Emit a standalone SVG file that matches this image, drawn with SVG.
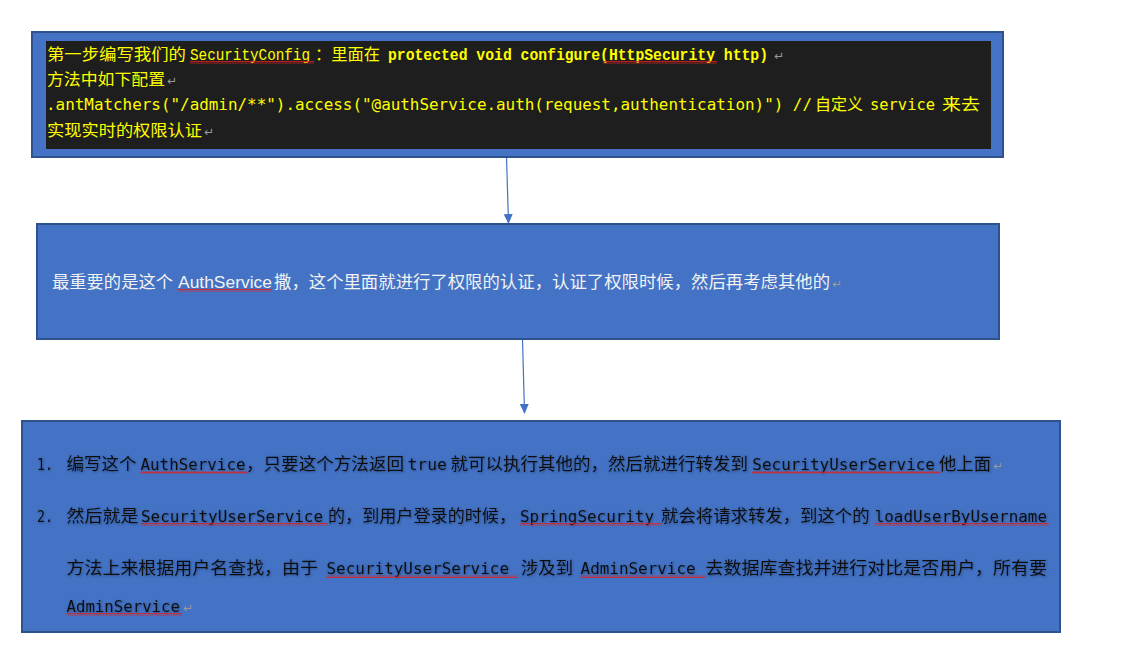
<svg xmlns="http://www.w3.org/2000/svg" width="1133" height="659" viewBox="0 0 1133 659">
<style>
.box{fill:#4472C4;stroke:#2F528F;stroke-width:2}
.cjk{font-family:"Noto Sans CJK SC","Noto Sans",sans-serif}
.mono{font-family:"DejaVu Sans Mono","Liberation Mono",monospace}
.cour{font-family:"Liberation Mono","DejaVu Sans Mono",monospace}
.sans{font-family:"Liberation Sans","Noto Sans",sans-serif}
.y{fill:#FFFF00;font-size:16px}
.w{fill:#F2F2F2;font-size:16.5px}
.k{fill:#101010;font-size:16.5px}
.ret{fill:#9A9A9A;font-family:"DejaVu Sans",sans-serif;font-size:12px}
.conn{stroke:#4472C4;stroke-width:1.2;fill:none}
</style>
<defs>
<pattern id="wave" width="4" height="3" patternUnits="userSpaceOnUse">
<path d="M0 2.5 L1 0.5 L2 2.5 L3 0.5 L4 2.5" stroke="#E0201C" stroke-width="0.8" fill="none"/>
</pattern>
<marker id="arr" markerWidth="10" markerHeight="10" refX="9" refY="5" orient="auto" markerUnits="userSpaceOnUse">
<path d="M0 0.5 L10 5 L0 9.5 Z" fill="#4472C4"/>
</marker>
<filter id="sh" x="-5%" y="-50%" width="110%" height="200%">
<feDropShadow dx="0.6" dy="0.8" stdDeviation="0.9" flood-color="#1F3864" flood-opacity="0.7"/>
</filter>
</defs>

<g id="connectors">
<line class="conn" x1="506.5" y1="157" x2="508.5" y2="223" marker-end="url(#arr)"/>
<line class="conn" x1="522.5" y1="339" x2="524.5" y2="413" marker-end="url(#arr)"/>
</g>

<g id="node1">
<rect class="box" x="32" y="32" width="971" height="125"/>
<rect x="46" y="41" width="945" height="108" fill="#1E1E1E"/>
<text class="cjk y" x="47" y="60" textLength="139" lengthAdjust="spacingAndGlyphs">第一步编写我们的</text>
<text class="cour y" x="190" y="60" font-size="15" textLength="120" lengthAdjust="spacingAndGlyphs">SecurityConfig</text>
<text class="cjk y" x="315" y="60" textLength="65" lengthAdjust="spacingAndGlyphs">：里面在</text>
<text class="cour y" x="388" y="60" font-size="15" font-weight="bold" textLength="380" lengthAdjust="spacingAndGlyphs">protected void configure(HttpSecurity  http)</text>
<text class="ret" x="774" y="60">↵</text>
<text class="cjk y" x="47" y="85" textLength="118" lengthAdjust="spacingAndGlyphs">方法中如下配置</text>
<text class="ret" x="167" y="85">↵</text>
<text class="mono y" x="46" y="110" textLength="766" lengthAdjust="spacingAndGlyphs">.antMatchers("/admin/**").access("@authService.auth(request,authentication)") //</text>
<text class="cjk y" x="815" y="110" textLength="48" lengthAdjust="spacingAndGlyphs">自定义</text>
<text class="mono y" x="870" y="110" textLength="65" lengthAdjust="spacingAndGlyphs">service</text>
<text class="cjk y" x="942" y="110" textLength="38" lengthAdjust="spacingAndGlyphs">来去</text>
<text class="cjk y" x="47" y="136" textLength="155" lengthAdjust="spacingAndGlyphs">实现实时的权限认证</text>
<text class="ret" x="204" y="136">↵</text>
<rect x="190" y="61" width="124" height="3" fill="url(#wave)"/>
<rect x="603" y="61" width="114" height="3" fill="url(#wave)"/>
</g>

<g id="node2">
<rect class="box" x="37" y="224" width="962" height="115"/>
<text class="cjk w" x="52" y="288" textLength="121" lengthAdjust="spacingAndGlyphs">最重要的是这个</text>
<text class="sans w" x="178" y="288" textLength="94" lengthAdjust="spacingAndGlyphs">AuthService</text>
<text class="cjk w" x="274" y="288" textLength="556" lengthAdjust="spacingAndGlyphs">撒，这个里面就进行了权限的认证，认证了权限时候，然后再考虑其他的</text>
<text class="ret" x="832" y="288">↵</text>
<rect x="178" y="289" width="94" height="3" fill="url(#wave)"/>
</g>

<g id="node3">
<rect class="box" x="22" y="421" width="1038" height="211"/>
<g filter="url(#sh)">
<text class="mono k" x="37" y="470" textLength="16" lengthAdjust="spacingAndGlyphs">1.</text>
<text class="cjk k" x="66.5" y="470" textLength="70" lengthAdjust="spacingAndGlyphs">编写这个</text>
<text class="mono k" x="140.5" y="470" textLength="105" lengthAdjust="spacingAndGlyphs">AuthService</text>
<text class="cjk k" x="246" y="470" textLength="158" lengthAdjust="spacingAndGlyphs">，只要这个方法返回</text>
<text class="mono k" x="407.5" y="470" textLength="39.5" lengthAdjust="spacingAndGlyphs">true</text>
<text class="cjk k" x="450.5" y="470" textLength="297.5" lengthAdjust="spacingAndGlyphs">就可以执行其他的，然后就进行转发到</text>
<text class="mono k" x="752.3" y="470" textLength="182.7" lengthAdjust="spacingAndGlyphs">SecurityUserService</text>
<text class="cjk k" x="939" y="470" textLength="52" lengthAdjust="spacingAndGlyphs">他上面</text>

<text class="mono k" x="37" y="522" textLength="16" lengthAdjust="spacingAndGlyphs">2.</text>
<text class="cjk k" x="66.5" y="522" textLength="72" lengthAdjust="spacingAndGlyphs">然后就是</text>
<text class="mono k" x="141" y="522" textLength="182" lengthAdjust="spacingAndGlyphs">SecurityUserService</text>
<text class="cjk k" x="328" y="522" textLength="188" lengthAdjust="spacingAndGlyphs">的，到用户登录的时候，</text>
<text class="mono k" x="520" y="522" textLength="134" lengthAdjust="spacingAndGlyphs">SpringSecurity</text>
<text class="cjk k" x="661" y="522" textLength="208.6" lengthAdjust="spacingAndGlyphs">就会将请求转发，到这个的</text>
<text class="mono k" x="874.7" y="522" textLength="172.3" lengthAdjust="spacingAndGlyphs">loadUserByUsername</text>

<text class="cjk k" x="66.5" y="574" textLength="251.5" lengthAdjust="spacingAndGlyphs">方法上来根据用户名查找，由于</text>
<text class="mono k" x="326.5" y="574" textLength="182.5" lengthAdjust="spacingAndGlyphs">SecurityUserService</text>
<text class="cjk k" x="521" y="574" textLength="52" lengthAdjust="spacingAndGlyphs">涉及到</text>
<text class="mono k" x="580.6" y="574" textLength="115" lengthAdjust="spacingAndGlyphs">AdminService</text>
<text class="cjk k" x="705.6" y="574" textLength="341.4" lengthAdjust="spacingAndGlyphs">去数据库查找并进行对比是否用户，所有要</text>

<text class="mono k" x="66.5" y="612" textLength="113.5" lengthAdjust="spacingAndGlyphs">AdminService</text>
</g>
<text class="ret" x="993" y="470">↵</text>
<text class="ret" x="183" y="612">↵</text>
<rect x="140.5" y="471" width="107" height="3" fill="url(#wave)"/>
<rect x="752" y="471" width="188.5" height="3" fill="url(#wave)"/>
<rect x="141" y="523" width="187" height="3" fill="url(#wave)"/>
<rect x="520" y="523" width="142" height="3" fill="url(#wave)"/>
<rect x="874.7" y="523" width="174" height="3" fill="url(#wave)"/>
<rect x="326.5" y="575" width="191" height="3" fill="url(#wave)"/>
<rect x="580.6" y="575" width="125" height="3" fill="url(#wave)"/>
<rect x="66.5" y="613" width="115.5" height="3" fill="url(#wave)"/>
</g>
</svg>
